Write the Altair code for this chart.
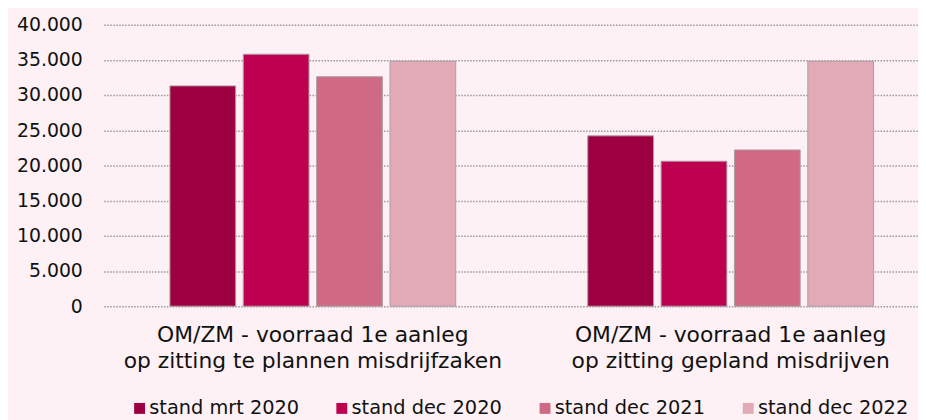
import altair as alt
import pandas as pd

categories = [
    "OM/ZM - voorraad 1e aanleg|op zitting te plannen misdrijfzaken",
    "OM/ZM - voorraad 1e aanleg|op zitting gepland misdrijven",
]
series = ["stand mrt 2020", "stand dec 2020", "stand dec 2021", "stand dec 2022"]
values_mrt_2020 = [31300, 24200]
values_dec_2020 = [35800, 20600]
values_dec_2021 = [32600, 22200]
values_dec_2022 = [34800, 34800]
colors = ["#9C0041", "#BD0050", "#D06983", "#E1AAB6"]

all_values = [values_mrt_2020, values_dec_2020, values_dec_2021, values_dec_2022]
rows = []
for s, vals in zip(series, all_values):
    for c, v in zip(categories, vals):
        rows.append({"categorie": c, "stand": s, "waarde": v})
df = pd.DataFrame(rows)

FONT = "DejaVu Sans"

chart = (
    alt.Chart(df)
    .mark_bar(stroke="#ab9ea4", strokeWidth=1)
    .encode(
        x=alt.X(
            "categorie:N",
            sort=categories,
            scale=alt.Scale(range=[1.75, 844.75], paddingInner=0, paddingOuter=0),
            axis=alt.Axis(
                title=None,
                labelAngle=0,
                ticks=False,
                domain=False,
                labelExpr="split(datum.label, '|')",
                labelFontSize=22,
                labelLineHeight=26,
                labelPadding=19,
                labelLimit=600,
                labelColor="#111111",
                labelFont=FONT,
            ),
        ),
        xOffset=alt.XOffset(
            "stand:N",
            sort=series,
            scale=alt.Scale(paddingInner=0.104, paddingOuter=0.9),
        ),
        y=alt.Y(
            "waarde:Q",
            scale=alt.Scale(domain=[0, 40000], nice=False),
            axis=alt.Axis(
                title=None,
                values=[0, 5000, 10000, 15000, 20000, 25000, 30000, 35000, 40000],
                labelExpr="replace(format(datum.value, ','), ',', '.')",
                ticks=False,
                domain=False,
                labelFontSize=19,
                labelPadding=20,
                labelColor="#111111",
                labelFont=FONT,
                grid=True,
                gridColor="#9e9699",
                gridDash=[1.5, 1.5],
                gridWidth=1.5,
            ),
        ),
        color=alt.Color(
            "stand:N",
            sort=series,
            scale=alt.Scale(domain=series, range=colors),
            legend=alt.Legend(
                title=None,
                orient="none",
                legendX=28,
                legendY=377,
                direction="horizontal",
                columns=4,
                columnPadding=33,
                symbolType="square",
                symbolSize=121,
                symbolStrokeWidth=0,
                labelOffset=0,
                labelFontSize=19.5,
                labelFont=FONT,
                labelColor="#111111",
                labelLimit=400,
                padding=0,
            ),
        ),
    )
    .properties(
        width=823,
        height=284,
        autosize=alt.AutoSizeParams(type="none"),
        padding={"left": 95, "top": 15, "right": 0, "bottom": 113},
        background="#FEF1F5",
    )
    .configure_view(stroke=None)
)

chart.save("out.html", embed_options={"renderer": "svg", "actions": False})
